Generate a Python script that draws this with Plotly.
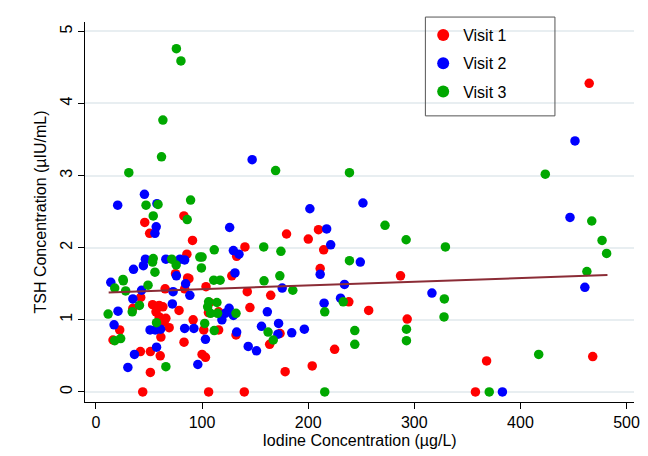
import plotly.graph_objects as go

# Visit 1 (red)
v1_iodine = [82.9, 46, 50.6, 91, 85.7, 75, 86.4, 65.2, 42.2, 53.4, 59.6, 63.1, 56.6, 59.6, 64.3, 69,
             61.2, 78.3, 22.4, 16.1, 51.3, 41.9, 60.6, 51.3, 44.1, 106.2, 83, 91.6, 101.6, 100, 103.2,
             83.6, 87.6, 103.7, 106, 115.6, 115.6, 107.2, 34.8, 65.9, 128, 142.6, 164.7, 145.1, 132,
             173.5, 163.7, 178.3, 139.8, 179.6, 140.4, 132.6, 200.1, 209.7, 214.6, 211.3, 238.3, 257,
             224.9, 203.8, 464.8, 468.1, 287, 293.3, 368.1, 357.6]
v1_tsh = [2.44, 2.35, 2.20, 2.10, 1.91, 1.64, 1.58, 1.43, 1.31, 1.21, 1.20, 1.18, 1.11, 1.04, 0.97, 0.89,
          0.76, 1.13, 0.86, 0.72, 0.56, 0.56, 0.50, 0.27, 0.0, 0.0, 0.69, 1.0, 0.86, 0.52, 0.48,
          1.43, 1.57, 1.46, 1.10, 1.11, 0.86, 1.24, 1.16, 1.02, 1.61, 1.39, 1.34, 1.17, 0.79,
          0.81, 0.66, 0.28, 0.0, 2.19, 2.01, 1.88, 2.12, 2.25, 1.97, 1.71, 1.25, 1.13,
          0.59, 0.36, 4.28, 0.49, 1.61, 1.01, 0.43, 0.0]

# Visit 2 (blue)
v2_iodine = [45.7, 20.5, 57.5, 56.8, 55.6, 46.6, 44.7, 35.4, 65.9, 79.2, 83.6, 75.8, 14, 126, 43, 34.8,
             20.8, 51, 55.9, 60.9, 72, 17.1, 57.1, 36.3, 30.1, 83.6, 92.3, 103.2, 96, 88.5, 84.5, 72.7,
             131, 175.5, 161.5, 125.5, 121.8, 118.7, 129.5, 132.6, 156, 172.1, 171.5, 184.5, 143.5,
             151.3, 147.2, 129.5, 134.8, 201.6, 251.6, 217.4, 221.2, 249.1, 211.3, 234.2, 230.5, 215,
             196.4, 451.4, 446.7, 460.7, 316.6, 383]
v2_tsh = [2.74, 2.59, 2.61, 2.29, 2.20, 1.84, 1.75, 1.70, 1.84, 1.84, 1.83, 1.61, 1.52, 2.28, 1.41, 1.29,
          1.12, 0.86, 0.86, 0.87, 1.22, 0.93, 0.62, 0.52, 0.34, 0.88, 0.88, 0.73, 0.38, 1.34, 1.50, 1.39,
          1.65, 1.44, 1.11, 1.16, 1.09, 1.0, 1.06, 0.83, 0.91, 0.95, 0.80, 0.82, 0.63,
          0.57, 3.22, 1.96, 1.91, 2.54, 2.62, 2.26, 2.04, 1.80, 1.63, 1.49, 1.30, 1.23,
          0.87, 3.48, 2.42, 1.45, 1.37, 0.0]

# Visit 3 (green)
v3_iodine = [75.8, 80.1, 63.1, 61.8, 31, 47.2, 58.5, 89.2, 86, 54, 111.5, 54, 53.4, 55.6, 71.4, 75.6,
             97.9, 100, 99.4, 25.5, 111, 117, 17.7, 25.8, 28, 49.1, 41, 34.2, 11.5, 57.1, 17.7, 23.3,
             65.9, 102.5, 106.2, 114, 114.6, 111.5, 105.3, 108, 158.4, 173.3, 185.5, 132, 162.2, 167.1,
             169.3, 238.9, 272.4, 158.1, 174.3, 238.9, 233, 215.6, 243.9, 243.9, 215.6, 423.4, 467.2,
             476.9, 481.2, 462.6, 417.2, 292.3, 329.3, 328.3, 328, 292.6, 292.6, 370.6]
v3_tsh = [4.76, 4.59, 3.77, 3.26, 3.04, 2.59, 2.60, 2.66, 2.39, 2.44, 1.97, 1.85, 1.80, 1.66, 1.84, 1.76,
          1.87, 1.87, 1.72, 1.56, 1.55, 1.55, 1.44, 1.54, 1.40, 1.48, 1.20, 1.11, 1.08, 0.96, 0.71, 0.74,
          0.35, 0.95, 1.25, 1.24, 1.09, 0.85, 1.18, 1.09, 1.54, 1.61, 1.41, 1.09, 0.83, 0.72,
          3.07, 3.04, 2.31, 2.01, 1.95, 1.82, 1.25, 1.11, 0.85, 0.66, 0.0, 3.02, 2.37,
          2.10, 1.92, 1.67, 0.52, 2.11, 2.01, 1.29, 1.04, 0.87, 0.71, 0.0]

# Linear fit line (endpoints)
fit_iodine = [12, 482]
fit_tsh = [1.38, 1.62]

series_names = ["Visit 1", "Visit 2", "Visit 3"]
series_colors = ["#ff0000", "#0000ff", "#00a800"]

x_ticks = [0, 100, 200, 300, 400, 500]
y_ticks = [0, 1, 2, 3, 4, 5]

FONT = "Liberation Sans, Arial, sans-serif"

fig = go.Figure()
for name, xs, ys, col in zip(series_names, [v1_iodine, v2_iodine, v3_iodine],
                             [v1_tsh, v2_tsh, v3_tsh], series_colors):
    fig.add_trace(go.Scatter(x=xs, y=ys, mode="markers", name=name, legendgroup=name,
                             marker=dict(color=col, size=9.5, line=dict(width=0))))

fig.add_trace(go.Scatter(x=fit_iodine, y=fit_tsh, mode="lines", showlegend=False,
                         line=dict(color="#8b2c36", width=2)))

fig.update_layout(
    width=648, height=456,
    margin=dict(l=85, r=8, t=22, b=54),
    paper_bgcolor="white", plot_bgcolor="white",
    font=dict(family=FONT, size=16, color="black"),
    showlegend=True,
    legend=dict(x=0.616, y=1.0105, xanchor="left", yanchor="top",
                bgcolor="rgba(0,0,0,0)", borderwidth=0,
                font=dict(size=16, color="black"), tracegroupgap=4.5,
                itemsizing="constant"),
    shapes=[dict(type="rect", xref="paper", yref="paper",
                 x0=0.62, x1=0.856, y0=0.753, y1=1.013,
                 line=dict(color="#555555", width=1), fillcolor="rgba(0,0,0,0)", layer="above")],
)

fig.update_xaxes(range=[-10.3, 507], tickvals=x_ticks, ticks="outside", ticklen=6,
                 tickcolor="black", showline=True, linecolor="black", linewidth=1,
                 showgrid=False, zeroline=False, mirror=False,
                 title=dict(text="Iodine Concentration (µg/L)", font=dict(size=16), standoff=4),
                 tickfont=dict(size=16))
fig.update_yaxes(range=[-0.14, 5.13], tickvals=y_ticks, ticks="outside", ticklen=6,
                 tickcolor="black", showline=True, linecolor="black", linewidth=1,
                 showgrid=True, gridcolor="#e8eef1", gridwidth=1.5, zeroline=False,
                 tickangle=-90,
                 title=dict(text="TSH Concentration (µIU/mL)", font=dict(size=16), standoff=6),
                 tickfont=dict(size=16))

fig.write_html("out.html")
